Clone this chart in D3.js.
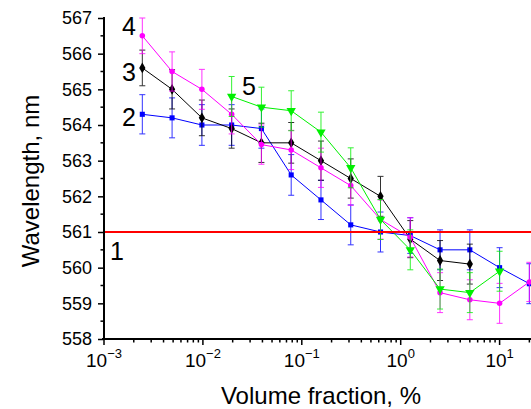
<!DOCTYPE html>
<html><head><meta charset="utf-8">
<script src="https://cdn.jsdelivr.net/npm/d3@7"></script>
<style>body{margin:0;background:#fff}svg{display:block;font-family:"Liberation Sans",Arial,sans-serif}</style>
</head><body><svg id="c" width="531" height="409"></svg>
<script>
// ---- data ----
const xVals = [0.00244, 0.00488, 0.00977, 0.01953, 0.03906, 0.07813, 0.15625, 0.3125, 0.625, 1.25, 2.5, 5, 10, 20];
const s2 = [564.3, 564.2, 564.0, 564.0, 563.9, 562.6, 561.9, 561.2, 561.0, 560.9, 560.5, 560.5, 560.0, 559.55];
const s2err = [0.55, 0.56, 0.57, 0.57, 0.55, 0.57, 0.55, 0.56, 0.56, 0.5, 0.56, 0.56, 0.56, 0.56];
const s3 = [565.6, 565.0, 564.2, 563.9, 563.5, 563.5, 563.0, 562.5, 562.0, 560.8, 560.2, 560.1, null, null];
const s3err = [0.5, 0.55, 0.5, 0.55, 0.55, 0.57, 0.55, 0.55, 0.56, 0.52, 0.56, 0.56, null, null];
const s4 = [566.5, 565.5, 565.0, 564.3, 563.45, 563.3, 562.8, 562.3, 561.35, 560.85, 559.3, 559.1, 559.0, 559.6];
const s4err = [0.5, 0.55, 0.56, 0.55, 0.55, 0.55, 0.55, 0.55, 0.55, 0.55, 0.56, 0.56, 0.56, 0.55];
const s5 = [null, null, null, 564.8, 564.5, 564.4, 563.8, 562.8, 561.35, 560.5, 559.4, 559.3, 559.9, null];
const s5err = [null, null, null, 0.56, 0.56, 0.56, 0.56, 0.56, 0.56, 0.56, 0.56, 0.56, 0.56, null];
const line1X = [0.001, 30];
const line1Y = [561, 561];
const yTicks = [558, 559, 560, 561, 562, 563, 564, 565, 566, 567];
const xTickExp = [-3, -2, -1, 0, 1];
const seriesLabels = ["1", "2", "3", "4", "5"];

// ---- chart ----
const svg = d3.select("#c");
const x = d3.scaleLog().domain([1e-3, 1e1]).range([104, 499.6]);
const y = d3.scaleLinear().domain([558, 567]).range([339, 18]);

// axes
const yAxis = d3.axisLeft(y).tickValues(yTicks).tickFormat(d3.format("d")).tickSize(6).tickPadding(6);
const gy = svg.append("g").attr("transform", "translate(104,0)").call(yAxis);
gy.select(".domain").attr("stroke-width", 2).attr("d", `M0,${y(558)+1}V${y(567)-1}`);
gy.selectAll(".tick line").attr("stroke-width", 1.5);
gy.selectAll(".tick text").attr("font-size", 18).attr("font-family", "Liberation Sans, Arial").attr("fill", "#000");
// y minor
const yMinor = d3.range(558.5, 567, 1);
svg.append("g").selectAll("line").data(yMinor).join("line")
  .attr("x1", 104).attr("x2", 100.5).attr("y1", d => y(d)).attr("y2", d => y(d))
  .attr("stroke", "#000").attr("stroke-width", 1.5);

// x axis
const gx = svg.append("g").attr("transform", `translate(0,${y(558)})`);
gx.append("line").attr("x1", 102).attr("x2", 531).attr("y1", 0).attr("y2", 0).attr("stroke", "#000").attr("stroke-width", 2);
const majors = xTickExp.map(e => Math.pow(10, e));
gx.selectAll(".maj").data(majors).join("line").attr("class", "maj")
  .attr("x1", d => x(d)).attr("x2", d => x(d)).attr("y1", 0).attr("y2", 6)
  .attr("stroke", "#000").attr("stroke-width", 1.5);
const minors = [];
for (const e of [-3, -2, -1, 0, 1]) for (let k = 2; k <= 9; k++) minors.push(k * Math.pow(10, e));
gx.selectAll(".min").data(minors.filter(d => x(d) < 531)).join("line").attr("class", "min")
  .attr("x1", d => x(d)).attr("x2", d => x(d)).attr("y1", 0).attr("y2", 3.5)
  .attr("stroke", "#000").attr("stroke-width", 1.5);
const xl = gx.selectAll(".xl").data(xTickExp).join("text").attr("class", "xl")
  .attr("x", d => x(Math.pow(10, d))).attr("y", 28).attr("text-anchor", "middle")
  .attr("font-size", 19).attr("fill", "#000");
xl.append("tspan").text("10");
xl.append("tspan").attr("dy", -9).attr("font-size", 13).text(d => String(d).replace("-", "\u2212"));

// titles
svg.append("text").attr("x", 321).attr("y", 404).attr("text-anchor", "middle").attr("font-size", 24).text("Volume fraction, %");
svg.append("text").attr("transform", "translate(39,181) rotate(-90)").attr("text-anchor", "middle").attr("font-size", 24).text("Wavelength, nm");

// series
const plot = svg.append("g");
const series = [
  {v: s2, e: s2err, c: "#0000ff", m: "square"},
  {v: s3, e: s3err, c: "#000000", m: "diamond"},
  {v: s4, e: s4err, c: "#ff00ff", m: "circle"},
  {v: s5, e: s5err, c: "#00f000", m: "triangle"}
];
const symbols = {square: d3.symbolSquare, diamond: d3.symbolDiamond, circle: d3.symbolCircle, triangle: d3.symbolTriangle};
const sizes = {square: 26, diamond: 34, circle: 24, triangle: 38};
series.forEach(s => {
  const pts = xVals.map((xv, i) => ({x: xv, y: s.v[i], e: s.e[i]})).filter(p => p.y != null);
  const g = plot.append("g");
  // error bars
  const eb = g.selectAll(".eb").data(pts).join("g").attr("stroke", s.c).attr("stroke-width", 1).attr("opacity", 0.8);
  eb.append("line").attr("x1", p => x(p.x)).attr("x2", p => x(p.x)).attr("y1", p => y(p.y + p.e)).attr("y2", p => y(p.y - p.e));
  eb.append("line").attr("x1", p => x(p.x) - 3).attr("x2", p => x(p.x) + 3).attr("y1", p => y(p.y + p.e)).attr("y2", p => y(p.y + p.e));
  eb.append("line").attr("x1", p => x(p.x) - 3).attr("x2", p => x(p.x) + 3).attr("y1", p => y(p.y - p.e)).attr("y2", p => y(p.y - p.e));
  g.append("path").datum(pts).attr("fill", "none").attr("stroke", s.c).attr("stroke-width", 1)
    .attr("d", d3.line().x(p => x(p.x)).y(p => y(p.y)));
  g.selectAll(".mk").data(pts).join("path")
    .attr("transform", p => `translate(${x(p.x)},${y(p.y)})` + (s.m === "triangle" ? " rotate(180)" : ""))
    .attr("d", d3.symbol().type(symbols[s.m]).size(sizes[s.m])).attr("fill", s.c);
});

// series 1 red line
svg.append("path").datum(line1X.map((xv, i) => ({x: xv, y: line1Y[i]})))
  .attr("fill", "none").attr("stroke", "#ff0000").attr("stroke-width", 2)
  .attr("d", d3.line().x(p => Math.max(105, x(p.x))).y(p => y(p.y)));

// series labels
const labPos = [[110, 260], [122, 126], [122, 81], [122, 35], [242, 95]];
svg.selectAll(".lab").data(seriesLabels).join("text").attr("class", "lab")
  .attr("x", (d, i) => labPos[i][0]).attr("y", (d, i) => labPos[i][1])
  .attr("font-size", 25).attr("fill", "#000").text(d => d);
</script></body></html>
